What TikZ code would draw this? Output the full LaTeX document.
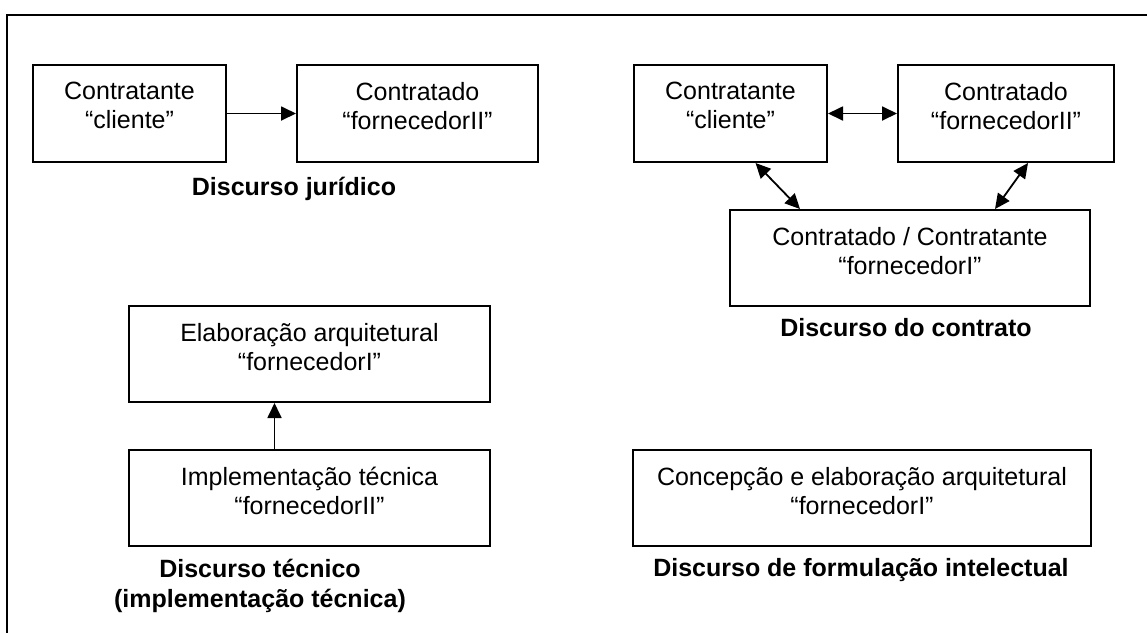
\documentclass[tikz,border=0pt]{standalone}
\usepackage{fontspec}
\setmainfont{Liberation Sans}
\usetikzlibrary{arrows.meta}

\tikzset{
  box/.style={draw, line width=2pt, inner sep=0pt, anchor=north west},
  boxtext/.style={font=\fontsize{25}{29}\selectfont, align=center, anchor=north, inner sep=0pt},
  title/.style={font=\bfseries\fontsize{25}{30}\selectfont, align=center, inner sep=0pt},
  arr/.style={line width=1.8pt, -{Triangle[length=15pt,width=14pt]}},
  darr/.style={line width=1.8pt, {Triangle[length=15pt,width=14pt]}-{Triangle[length=15pt,width=14pt]}}
}

\begin{document}
\begin{tikzpicture}[x=1pt, y=-1pt]
  \useasboundingbox (0,0) rectangle (1147,633);
  \draw[line width=1.8pt] (1147,15) -- (7,15) -- (7,633);

  \node[box, minimum width=193pt, minimum height=97pt] (cliJ) at (32,64) {};
  \node[box, minimum width=241pt, minimum height=97pt] (forJ) at (296,64) {};
  \node[boxtext] (cliJtxt) at ([yshift=-18pt]cliJ.north) {Contratante\\“cliente”};
  \node[boxtext] (forJtxt) at ([yshift=-18pt]forJ.north) {Contratado\\“fornecedorII”};
  \draw[arr] (cliJ) -- (forJ);
  \node[title] (tJur) at (294,189) {Discurso jurídico};

  \node[box, minimum width=193pt, minimum height=97pt] (cliC) at (633,64) {};
  \node[box, minimum width=216pt, minimum height=97pt] (forC) at (897,64) {};
  \node[box, minimum width=360pt, minimum height=96pt] (forIC) at (729,209) {};
  \node[boxtext] (cliCtxt) at ([yshift=-18pt]cliC.north) {Contratante\\“cliente”};
  \node[boxtext] (forCtxt) at ([yshift=-18pt]forC.north) {Contratado\\“fornecedorII”};
  \node[boxtext] (forICtxt) at ([yshift=-18pt]forIC.north) {Contratado / Contratante\\“fornecedorI”};
  \draw[darr] (cliC) -- (forC);
  \draw[darr] ([xshift=25pt]cliC.south) -- ([xshift=71pt]forIC.north west);
  \draw[darr] ([xshift=22pt]forC.south) -- ([xshift=-96pt]forIC.north east);
  \node[title] (tCon) at (906,328) {Discurso do contrato};

  \node[box, minimum width=361pt, minimum height=96pt] (elaT) at (128,305) {};
  \node[box, minimum width=361pt, minimum height=96pt] (impT) at (128,449) {};
  \node[boxtext] (elaTtxt) at ([yshift=-18pt]elaT.north) {Elaboração arquitetural\\“fornecedorI”};
  \node[boxtext] (impTtxt) at ([yshift=-18pt]impT.north) {Implementação técnica\\“fornecedorII”};
  \draw[arr] ([xshift=-35pt]impT.north) -- ([xshift=-35pt]elaT.south);
  \node[title] (tTec) at (260,586) {Discurso técnico\\(implementação técnica)};

  \node[box, minimum width=458pt, minimum height=96pt] (conF) at (632,449) {};
  \node[boxtext] (conFtxt) at ([yshift=-18pt]conF.north) {Concepção e elaboração arquitetural\\“fornecedorI”};
  \node[title] (tFor) at (861,570) {Discurso de formulação intelectual};
\end{tikzpicture}
\end{document}
